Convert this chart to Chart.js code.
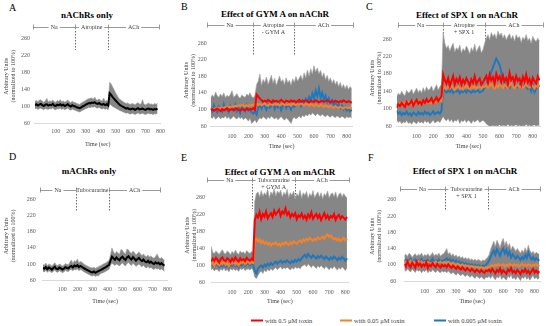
<!DOCTYPE html>
<html><head><meta charset="utf-8">
<script src="https://cdn.jsdelivr.net/npm/chart.js@4.4.0/dist/chart.umd.min.js"></script>
<style>
body{margin:0;width:550px;height:326px;position:relative;background:#fff;overflow:hidden;font-family:"Liberation Serif",serif;color:#000}
canvas{position:absolute}
.lt{position:absolute;font-size:10px;line-height:10px}
.tt{position:absolute;font-weight:bold;font-size:9px;line-height:10px;transform:translate(-50%,-50%);white-space:nowrap}
.lg{position:absolute;font-size:6.5px;line-height:7px;color:#404040;white-space:nowrap;transform:translateY(-50%)}
.lg i{display:inline-block;width:12px;height:2px;vertical-align:middle;margin-right:2px;position:relative;top:-1px}
</style></head><body>
<div class="lt" style="left:9px;top:3px">A</div>
<div class="lt" style="left:181px;top:2px">B</div>
<div class="lt" style="left:366px;top:2px">C</div>
<div class="lt" style="left:9px;top:152px">D</div>
<div class="lt" style="left:181px;top:153px">E</div>
<div class="lt" style="left:368px;top:153px">F</div>
<div class="tt" style="left:87px;top:15px">nAChRs only</div>
<div class="tt" style="left:275px;top:14px">Effect of GYM A on nAChR</div>
<div class="tt" style="left:467px;top:15px">Effect of SPX 1 on nAChR</div>
<div class="tt" style="left:89px;top:171px">mAChRs only</div>
<div class="tt" style="left:280px;top:172px">Effect of GYM A on mAChR</div>
<div class="tt" style="left:465px;top:171px">Effect of SPX 1 on mAChR</div>
<div class="lg" style="left:251px;top:320px"><i style="background:#ff0000"></i>with 0.5 μM toxin</div>
<div class="lg" style="left:340px;top:320px"><i style="background:#f5822a"></i>with 0.05 μM toxin</div>
<div class="lg" style="left:434px;top:320px"><i style="background:#1f78be"></i>with 0.005 μM toxin</div>
<script>
// ---------- tick labels ----------
const xTicks = [100,200,300,400,500,600,700,800];
const yTicks = [60,100,140,180,220,260];
const STEP = 10;               // sampling interval of the traces (s)
const T0 = {A:-40,B:-30,C:-20,D:-30,E:-30,F:-30}; // first sample time per panel

// ---------- A: nAChRs only ----------
const aMean = [102,104,101,103,105,102,100,103,104,101,103,102,105,101,100,103,102,104,101,103,100,102,104,101,99,102,100,
99,97,96,95,97,99,101,103,105,107,106,108,107,109,106,105,107,104,103,105,102,104,101,
130,126,121,117,113,109,105,102,100,98,
96,94,95,93,92,94,93,91,93,95,92,93,94,92,91,93,94,92,93,91,93,92,94];
const aHi = [111,113,110,114,115,111,109,112,118,110,112,111,114,110,109,113,111,115,110,112,109,111,114,110,108,111,109,
108,106,105,104,107,109,111,113,116,117,118,119,116,121,115,114,117,113,112,119,111,113,110,
156,152,145,138,131,125,119,115,113,110,
108,106,107,105,104,106,105,103,106,108,104,105,115,104,103,105,107,104,105,103,106,104,106];
const aLo = [93,95,92,94,95,93,91,94,93,92,94,93,96,92,91,94,93,95,92,94,91,93,95,92,90,93,91,
90,88,87,86,88,90,92,94,95,97,96,98,97,99,96,95,97,94,93,95,92,94,91,
105,102,99,97,95,93,91,89,88,86,
85,83,84,82,81,83,82,80,82,84,81,82,83,81,80,82,83,81,82,80,82,81,83];

// ---------- B: GYM A on nAChR ----------
const bRed = [98,101,97,100,102,99,96,101,98,100,103,97,99,101,98,100,102,99,97,101,100,98,102,99,101,100,103,99,
136,131,126,122,119,121,118,123,120,117,122,119,121,118,120,123,119,117,121,120,118,122,119,121,117,120,123,118,121,119,
122,120,117,121,119,118,122,120,117,119,121,118,120,122,119,117,120,118,121,119,117,120,118,122,119,117,120,118,116];
const bOrange = [99,102,100,103,101,104,102,105,103,106,104,107,105,108,106,109,107,110,108,111,109,107,110,108,111,109,112,110,
114,111,113,110,112,115,111,109,113,112,110,114,111,113,109,112,115,110,112,111,113,109,114,112,110,
113,111,115,112,110,114,112,109,113,111,108,112,110,107,111,109,106,110,108,105,109,106,104,108,105,103,107,104,102,106,104,103,105,101];
const bBlue = [104,96,110,99,93,107,101,95,112,98,103,94,108,100,97,111,96,104,92,106,99,95,109,97,101,93,90,96,
88,104,110,102,115,106,99,112,104,108,117,101,110,105,113,98,109,115,103,111,107,100,114,106,110,
112,118,108,121,114,125,117,130,120,138,126,145,132,150,128,140,124,133,118,127,115,122,110,117,106,113,103,109,100,106,97,102,95,99];
const bHi = [128,135,130,142,133,129,137,131,140,128,134,130,136,145,129,133,138,130,127,135,131,129,137,133,140,131,128,134,
160,168,185,158,172,165,178,160,170,182,163,175,158,169,180,166,172,160,176,164,170,158,174,165,179,
168,175,182,170,188,176,195,180,198,185,205,190,200,186,194,178,188,172,182,168,176,163,172,160,168,155,165,152,160,150,158,148,155,150];
const bLo = [82,78,84,76,80,83,77,81,79,85,78,82,76,80,84,79,77,82,78,81,75,80,77,72,79,66,70,75,
68,75,80,77,83,79,76,82,78,84,80,77,81,75,79,83,78,74,80,76,72,66,78,81,77,
80,84,79,86,82,88,84,90,86,92,88,85,90,87,84,89,85,82,87,84,81,86,83,80,85,82,79,84,81,78,83,80,82,79];

// ---------- C: SPX 1 on nAChR ----------
const cRed = [102,110,106,113,108,104,115,109,112,118,107,114,120,111,116,110,119,113,122,115,118,124,114,120,126,117,123,128,
178,165,158,170,152,163,175,156,168,160,172,155,166,158,170,162,153,167,159,174,157,164,169,155,161,
168,175,160,178,165,172,158,180,167,174,161,176,163,170,157,182,166,172,159,175,164,169,156,173,162,178,160,168,155,171,163,158,174,165];
const cOrange = [108,112,110,115,111,114,109,116,113,111,117,112,115,110,118,113,116,112,119,114,117,113,120,115,118,116,121,117,
152,148,145,150,146,152,147,143,149,151,146,150,144,148,153,147,145,150,148,152,146,149,151,147,150,
150,155,148,153,157,150,146,154,149,156,152,148,155,151,147,153,158,150,146,152,155,149,153,147,151,156,150,148,154,152,146,153,150,155];
const cBlue = [95,88,92,85,90,87,93,86,89,84,91,88,85,92,87,90,86,93,88,91,85,89,94,87,90,92,88,95,
145,140,137,142,138,144,136,141,139,143,135,140,138,142,137,144,139,136,141,138,140,143,137,139,141,
150,155,165,172,185,195,205,215,208,200,185,170,158,150,153,148,155,150,146,153,149,156,151,147,154,150,145,152,140,155,138,146,150,152];
const cHi = [128,135,131,140,133,130,142,136,138,145,133,140,147,137,143,136,148,139,150,142,145,152,140,147,155,143,150,156,
275,250,238,245,232,242,250,230,240,235,246,228,238,232,244,236,226,240,232,248,230,238,245,228,236,
250,262,270,258,275,265,272,260,278,268,274,262,270,258,266,272,260,268,255,270,262,266,252,264,258,270,256,262,250,266,258,254,262,255];
const cLo = [75,68,72,65,70,67,73,66,69,64,71,68,65,72,67,70,66,73,68,71,65,69,74,67,70,72,68,75,
82,75,72,78,70,76,68,74,71,77,66,73,70,75,68,74,71,66,73,69,72,75,68,71,73,
70,65,62,60,60,62,60,61,60,63,60,62,61,60,64,60,62,60,61,63,60,62,60,61,60,64,60,62,60,61,63,60,62,61];

// ---------- D: mAChRs only ----------
const dMean = [90,88,92,87,91,89,86,90,93,88,87,91,89,86,88,92,90,89,93,95,91,96,
94,97,92,95,93,90,88,86,84,82,80,79,81,78,80,82,84,86,88,90,92,95,97,
108,118,114,110,116,112,109,115,118,113,110,116,119,114,111,117,113,108,112,115,110,107,111,106,104,108,103,106,102,100,104,101,103,99,102,98,96];
const dHi = [99,97,102,96,100,98,95,99,103,97,96,100,98,95,97,101,99,98,104,110,101,108,
106,112,103,106,104,101,98,96,94,92,91,90,92,89,91,93,95,97,99,101,103,106,108,
122,140,130,125,131,127,124,136,134,128,125,137,135,129,126,132,128,122,126,130,125,121,125,120,118,122,117,120,116,114,118,125,117,113,116,112,110];
const dLo = [82,80,84,79,83,81,78,82,85,80,79,83,81,78,80,84,82,81,85,86,83,87,
85,88,83,86,84,81,79,77,75,73,71,70,72,69,71,70,75,77,78,80,82,84,86,
96,102,99,96,100,98,95,99,103,98,95,101,104,99,96,102,98,94,97,100,96,93,97,92,90,94,89,92,88,86,90,87,89,85,88,84,82];

// ---------- E: GYM A on mAChR ----------
const eRed = [108,115,110,117,112,106,114,118,111,109,116,113,107,115,110,118,112,108,116,111,114,109,117,113,110,115,112,
205,218,212,225,208,220,214,226,210,217,222,213,228,219,224,230,216,226,221,233,218,224,212,220,215,222,208,217,213,221,
210,216,207,219,212,224,209,215,220,211,218,206,214,222,210,217,208,215,212,220,206,214,218,209,215,211,207,213];
const eOrange = [100,105,98,107,103,99,106,102,108,100,104,97,106,103,109,101,105,99,107,104,110,102,106,108,103,107,105,
158,162,155,160,152,157,150,154,148,152,146,151,149,153,147,150,145,152,148,154,150,147,153,149,156,152,150,155,158,153,
160,156,162,158,164,160,157,162,159,165,161,163,167,162,168,172,166,170,164,160,163,158,162,156,160,164,158,162];
const eBlue = [98,102,96,104,99,95,101,97,103,96,100,94,102,98,105,97,101,95,103,99,106,98,102,104,99,103,101,
85,80,92,96,99,94,101,97,103,99,105,100,104,108,103,107,110,105,109,106,111,107,104,110,106,112,108,114,110,116,
120,124,118,126,121,117,123,119,115,121,117,122,118,114,120,116,112,118,114,120,116,111,117,113,119,115,110,116];
const eHi = [145,130,127,133,129,125,131,136,128,126,133,130,124,132,127,135,129,125,133,128,131,126,134,130,127,132,129,
250,268,272,260,275,262,270,265,278,258,272,266,280,262,274,268,276,260,271,265,278,259,270,264,274,256,268,262,276,258,
270,264,273,257,268,262,275,258,266,272,260,270,256,268,263,274,258,266,270,261,272,257,266,270,260,268,262,258];
const eLo = [88,92,86,90,89,85,91,87,93,86,90,84,92,88,91,87,90,85,92,89,93,87,90,91,88,92,89,
72,68,76,82,86,80,88,84,90,86,92,87,91,94,89,93,96,90,94,91,95,92,88,94,90,96,92,95,91,97,
99,101,96,103,98,94,100,96,92,98,94,99,95,91,97,93,89,95,91,97,93,88,94,90,96,92,87,93];

// ---------- F: SPX 1 on mAChR ----------
const fRed = [102,96,108,99,94,105,100,93,107,98,103,95,101,97,106,92,100,96,104,98,94,102,97,93,100,96,
99,94,101,96,92,98,94,90,96,91,88,94,89,86,92,88,84,90,86,82,88,85,81,87,83,80,86,84,
88,82,90,84,79,87,83,91,80,86,82,78,88,84,92,81,85,79,87,83,77,86,82,89,80,85,78,84,90,81,86,80,84];
const fOrange = [104,108,102,106,110,103,107,101,105,109,104,108,102,106,103,107,105,101,106,104,108,103,105,107,102,106,
106,103,107,104,101,105,102,99,103,100,98,101,97,99,96,98,95,97,94,96,93,95,92,94,93,91,94,92,
94,97,99,96,100,98,102,97,99,101,96,100,98,102,99,97,101,98,100,96,99,102,98,100,97,101,99,96,100,98,102,97,99];
const fBlue = [108,112,104,110,115,106,109,113,103,111,107,114,105,110,108,112,104,109,115,106,110,107,113,105,109,111,
112,116,110,114,108,112,106,110,104,108,102,106,100,104,99,102,97,101,96,100,95,99,97,94,98,96,100,104,
110,120,128,135,125,138,130,122,134,140,128,136,124,132,118,126,120,115,122,117,112,119,114,124,116,130,120,113,118,111,116,113,110];
const fHi = [122,126,120,128,125,118,124,127,121,126,123,129,120,125,122,127,121,124,130,122,126,123,129,121,125,127,
132,140,126,130,122,127,120,124,118,122,116,120,114,118,113,117,111,115,110,114,109,113,111,108,112,110,114,118,
124,138,148,158,145,160,152,142,156,165,148,158,144,152,136,146,140,133,140,134,128,136,130,142,132,148,135,128,133,126,131,128,125];
const fLo = [88,84,90,86,82,89,85,81,88,84,87,80,86,83,89,80,85,82,88,84,81,87,83,80,85,82,
84,80,85,81,77,82,78,74,80,76,73,78,74,71,76,72,69,74,70,66,72,69,66,71,67,64,70,68,
72,66,74,68,63,71,67,75,64,70,66,62,72,68,76,65,69,63,71,67,61,70,66,73,64,69,62,68,74,65,70,64,68];

// ---------- phase annotations (time units) ----------
const PHASES = {
  A:{bounds:[-52,230,450,790], labels:[['Na'],['Atropine'],['ACh']]},
  B:{bounds:[-52,228,478,837], labels:[['Na'],['Atropine','- GYM A'],['ACh']]},
  C:{bounds:[-12,260,512,860], labels:[['Na'],['Atropine','+ SPX 1'],['ACh']]},
  D:{bounds:[-48,190,410,752], labels:[['Na'],['Tubocurarine'],['ACh']]},
  E:{bounds:[-55,226,488,823], labels:[['Na'],['Tubocurarine','+ GYM A'],['ACh']]},
  F:{bounds:[-57,229,503,834], labels:[['Na'],['Tubocurarine','+ SPX 1'],['ACh']]}
};

// ---------- layout (page pixels) ----------
const GEO = {
  A:{x0:41,pxs:0.153,xmax:800,y60:123,y260:38,row:27,ytX:6,timeY:144,xpad:5,ypad:5},
  B:{x0:215.6,pxs:0.164,xmax:835,y60:126,y260:43,row:25,ytX:186,timeY:146,xpad:7,ypad:4},
  C:{x0:400,pxs:0.166,xmax:845,y60:126,y260:39,row:25,ytX:372,timeY:146,xpad:7,ypad:5},
  D:{x0:47.5,pxs:0.155,xmax:800,y60:280,y260:199,row:190,ytX:6,timeY:301,xpad:6,ypad:7},
  E:{x0:216,pxs:0.164,xmax:820,y60:282,y260:197,row:180,ytX:187,timeY:301,xpad:7,ypad:6},
  F:{x0:409,pxs:0.157,xmax:835,y60:281,y260:197,row:189,ytX:372,timeY:301,xpad:7,ypad:8}
};
const YMAX = 280;
const COL = {red:'#ff0000', orange:'#f5822a', blue:'#1f78be', black:'#000000'};
const FONT = '"Liberation Serif", serif';

const phasePlugin = {
  id:'phases',
  beforeDatasetsDraw(chart, args, o){
    const {ctx, scales:{x,y}} = chart;
    ctx.save();
    ctx.strokeStyle = '#555'; ctx.lineWidth = 0.9; ctx.setLineDash([1.5,1.5]);
    const yb = y.getPixelForValue(232);
    for (let i=1;i<o.bounds.length-1;i++){
      const px = Math.round(x.getPixelForValue(o.bounds[i]))+0.5;
      ctx.beginPath(); ctx.moveTo(px, o.rowY+4); ctx.lineTo(px, yb); ctx.stroke();
    }
    ctx.restore();
  },
  afterDraw(chart, args, o){
    const {ctx, scales:{x}} = chart;
    ctx.save();
    ctx.font = '6px ' + FONT; ctx.fillStyle = '#404040';
    ctx.strokeStyle = '#808080'; ctx.lineWidth = 0.8;
    ctx.textAlign = 'center'; ctx.textBaseline = 'middle';
    const ry = o.rowY;
    const px = o.bounds.map(v => x.getPixelForValue(v));
    px.forEach(p => { const q = Math.round(p)+0.5; ctx.beginPath(); ctx.moveTo(q, ry-2.5); ctx.lineTo(q, ry+2.5); ctx.stroke(); });
    for (let i=0;i<px.length-1;i++){
      const c = (px[i]+px[i+1])/2;
      const lines = o.labels[i];
      const w = ctx.measureText(lines[0]).width;
      const l1 = c - w/2 - 2, r1 = c + w/2 + 2;
      ctx.beginPath();
      if (l1 > px[i]+1) { ctx.moveTo(px[i], Math.round(ry)+0.5); ctx.lineTo(l1, Math.round(ry)+0.5); }
      if (r1 < px[i+1]-1) { ctx.moveTo(r1, Math.round(ry)+0.5); ctx.lineTo(px[i+1], Math.round(ry)+0.5); }
      ctx.stroke();
      lines.forEach((t,k) => ctx.fillText(t, c, ry + k*7.5));
    }
    ctx.restore();
  }
};

function pts(t0, arr){ return arr.map((v,i) => ({x:t0 + i*STEP, y:v})); }

function panel(key, lines, hi, lo){
  const g = GEO[key], t0 = T0[key];
  const pyu = (g.y60 - g.y260)/200;
  const chartTop = g.y60 - (YMAX-60)*pyu;
  const chartLeft = g.x0 + t0*g.pxs;
  const chartRight = g.x0 + g.xmax*g.pxs;
  const cl = Math.round(g.ytX - 3.45), ct = Math.round(g.row - 9), cb = Math.round(g.timeY + 3.6);
  const W = Math.ceil(chartRight + 6 - cl), H = cb - ct;
  const YW = chartLeft - cl, XH = cb - g.y60;
  const padTop = chartTop - ct, padRight = W - (chartRight - cl);
  const cv = document.createElement('canvas');
  cv.width = W; cv.height = H;
  cv.style.left = cl+'px'; cv.style.top = ct+'px'; cv.style.width = W+'px'; cv.style.height = H+'px';
  document.body.appendChild(cv);
  const ds = lines.map(s => ({data:pts(t0, s.d), borderColor:s.c, backgroundColor:s.c, borderWidth:2, pointRadius:0, tension:0, fill:false}));
  ds.push({data:pts(t0, hi), borderColor:'#a6a6a6', borderWidth:0.7, pointRadius:0, backgroundColor:'#868686', fill:'+1'});
  ds.push({data:pts(t0, lo), borderColor:'#a6a6a6', borderWidth:0.7, pointRadius:0, fill:false});
  new Chart(cv, {
    type:'line',
    data:{datasets:ds},
    options:{
      responsive:false, animation:false, devicePixelRatio:1,
      layout:{padding:{top:padTop, right:padRight, left:0, bottom:0}},
      plugins:{legend:{display:false}, tooltip:{enabled:false},
        phases:{bounds:PHASES[key].bounds, labels:PHASES[key].labels, rowY:g.row - ct}},
      scales:{
        x:{type:'linear', min:t0, max:g.xmax,
          afterFit:s => { s.height = XH; },
          afterBuildTicks:s => { s.ticks = xTicks.filter(v => v <= g.xmax).map(v => ({value:v})); },
          ticks:{autoSkip:false, maxRotation:0, padding:g.xpad, color:'#595959', font:{family:FONT, size:6}},
          grid:{display:false, drawTicks:false},
          border:{display:true, color:'#d9d9d9', width:1},
          title:{display:true, text:'Time (sec)', padding:0, color:'#404040', font:{family:FONT, size:6, lineHeight:1.2}}
        },
        y:{min:60, max:YMAX,
          afterFit:s => { s.width = YW; },
          afterBuildTicks:s => { s.ticks = yTicks.map(v => ({value:v})); },
          ticks:{padding:g.ypad, color:'#595959', font:{family:FONT, size:6}},
          grid:{display:false, drawTicks:false},
          border:{display:false},
          title:{display:true, text:['Arbitrary Units','(normalized to 100%)'], padding:0, color:'#404040', font:{family:FONT, size:6, lineHeight:1.15}}
        }
      }
    },
    plugins:[phasePlugin]
  });
}

panel('A', [{d:aMean, c:COL.black}], aHi, aLo);
panel('B', [{d:bRed, c:COL.red},{d:bOrange, c:COL.orange},{d:bBlue, c:COL.blue}], bHi, bLo);
panel('C', [{d:cRed, c:COL.red},{d:cOrange, c:COL.orange},{d:cBlue, c:COL.blue}], cHi, cLo);
panel('D', [{d:dMean, c:COL.black}], dHi, dLo);
panel('E', [{d:eRed, c:COL.red},{d:eOrange, c:COL.orange},{d:eBlue, c:COL.blue}], eHi, eLo);
panel('F', [{d:fRed, c:COL.red},{d:fOrange, c:COL.orange},{d:fBlue, c:COL.blue}], fHi, fLo);
</script>
</body></html>
